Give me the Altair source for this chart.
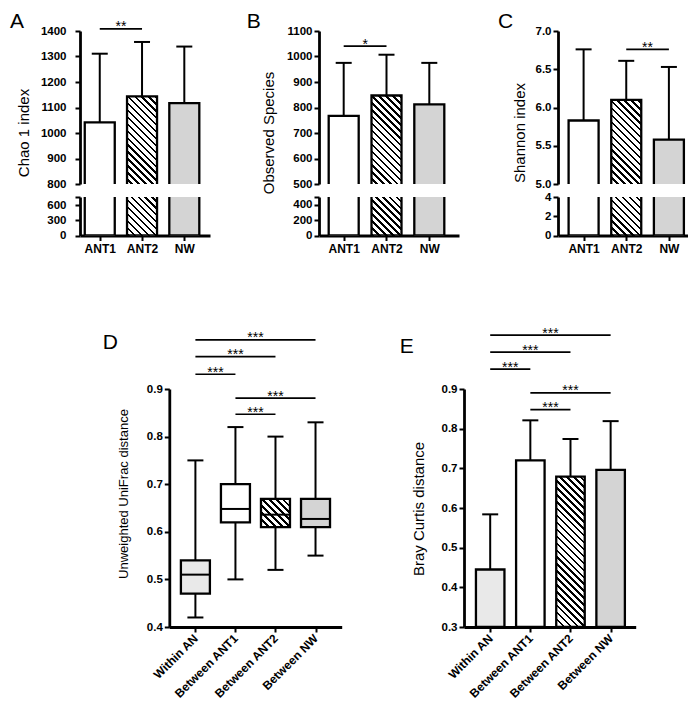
import json
import math
import altair as alt
import pandas as pd

FONT = "Liberation Sans"
GRAY = "#d4d4d4"
DOTTED = "#e9e9e9"

# ---------------- data ----------------
groups3 = ["ANT1", "ANT2", "NW"]
kinds3 = ["open", "hatch", "gray"]
chao1_mean = [1042, 1144, 1117]
chao1_sd_top = [1311, 1357, 1339]
obs_mean = [767, 847, 812]
obs_sd_top = [975, 1007, 975]
shannon_mean = [5.83, 6.10, 5.58]
shannon_sd_top = [6.76, 6.61, 6.53]

chao1_upper_ticks = [800, 900, 1000, 1100, 1200, 1300, 1400]
chao1_lower_ticks = [0, 300, 600]
obs_upper_ticks = [500, 600, 700, 800, 900, 1000, 1100]
obs_lower_ticks = [0, 200, 400]
shannon_upper_ticks = [5.0, 5.5, 6.0, 6.5, 7.0]
shannon_lower_ticks = [0, 2, 4]

sigA_from, sigA_to, sigA_level, sigA_label = [0], [1], [1408], ["**"]
sigB_from, sigB_to, sigB_level, sigB_label = [0], [1], [1041], ["*"]
sigC_from, sigC_to, sigC_level, sigC_label = [1], [2], [6.76], ["**"]

groups4 = ["Within AN", "Between ANT1", "Between ANT2", "Between NW"]
kinds4 = ["dotted", "open", "hatch", "gray"]
unifrac_min = [0.42, 0.50, 0.52, 0.55]
unifrac_q1 = [0.47, 0.62, 0.61, 0.61]
unifrac_median = [0.51, 0.648, 0.636, 0.627]
unifrac_q3 = [0.54, 0.70, 0.669, 0.669]
unifrac_max = [0.75, 0.82, 0.80, 0.83]
unifrac_ticks = [0.4, 0.5, 0.6, 0.7, 0.8, 0.9]

bray_mean = [0.445, 0.72, 0.679, 0.696]
bray_sd_top = [0.584, 0.821, 0.774, 0.819]
bray_ticks = [0.3, 0.4, 0.5, 0.6, 0.7, 0.8, 0.9]

dist_sig_from = [0, 0, 0, 1, 1]
dist_sig_to = [3, 2, 1, 3, 2]
dist_sig_label = ["***", "***", "***", "***", "***"]
unifrac_sig_level = [1.003, 0.968, 0.931, 0.881, 0.847]
bray_sig_level = [1.036, 0.993, 0.950, 0.890, 0.848]

# ---------------- layout / style constants ----------------
UP_H, LO_H, BOT_H, ROW_GAP_H = 153, 38.5, 238, 127
BAR_W, BOX_W, EBAR_W, CAP_W = 30, 29, 28.5, 16
A_W, B_W, C_W = 130, 140, 130
W2 = 238.3 - A_W          # gap column between A and B
W4 = 476.7 - 238.3 - B_W  # gap column between B and C
SW = 2.3                  # outline width
AXW = 2.8                 # axis line width


def hatch(w, h, period=4.9, frac=0.36):
    L = (w + h) / math.sqrt(2)
    n = L / period
    s = (w + h) / (w * w + h * h)
    stops = []
    k = 0
    while k < n:
        a = k / n
        b = min((k + frac) / n, 1.0)
        c = min((k + 1) / n, 1.0)
        stops += [alt.GradientStop(color="black", offset=a),
                  alt.GradientStop(color="black", offset=b),
                  alt.GradientStop(color="white", offset=b),
                  alt.GradientStop(color="white", offset=c)]
        k += 1
    return alt.LinearGradient(gradient="linear", stops=stops,
                              x1=0, y1=1, x2=s * w, y2=1 - s * h)


def fill_for(kind, w, h):
    if kind == "hatch":
        return hatch(w, h)
    if kind == "gray":
        return GRAY
    if kind == "dotted":
        return DOTTED
    return "white"


def y_axis(values, fmt, title="", title_x=0, title_y=0, title_size=15, label_expr="",
           offset=0, pad=2):
    kw = dict(values=values, format=fmt, title=title, grid=False,
              domainColor="black", domainWidth=AXW, tickColor="black",
              tickWidth=2, tickSize=5, labelFont=FONT, labelFontSize=11.5,
              labelFontWeight="bold", labelColor="black", labelPadding=pad,
              labelOverlap=False, offset=offset)
    if title:
        kw.update(titleFont=FONT, titleFontSize=title_size, titleFontWeight="normal",
                  titleColor="black", titleX=title_x, titleY=title_y, titleAngle=270,
                  titleBaseline="alphabetic", titleAlign="center")
    if label_expr:
        kw["labelExpr"] = label_expr
    return alt.Axis(**kw)


def x_axis(labels, rotate=False):
    kw = dict(values=list(range(len(labels))), labelExpr=json.dumps(labels) + "[datum.value]",
              title="", grid=False, domainColor="black", domainWidth=AXW,
              tickColor="black", tickWidth=2, tickSize=5, labelFont=FONT,
              labelFontSize=12, labelFontWeight="bold", labelColor="black",
              labelPadding=3, labelOverlap=False, labelFlush=False)
    if rotate:
        kw.update(labelAngle=315, labelAlign="right", labelBaseline="middle", labelPadding=4)
    return alt.Axis(**kw)


def hline(size):
    return dict(color="black", orient="horizontal", size=size, thickness=2, opacity=1)


def sig_layers(frm, to, level, labels, xs, ys, xax, yax):
    df = pd.DataFrame({"from": frm, "to": to, "level": level, "label": labels,
                       "mid": [(a + b) / 2 for a, b in zip(frm, to)]})
    rule = alt.Chart(df).mark_rule(color="black", strokeWidth=1.7).encode(
        x=alt.X("from:Q", scale=xs, axis=xax), x2="to:Q",
        y=alt.Y("level:Q", scale=ys, axis=yax))
    text = alt.Chart(df).mark_text(font=FONT, fontSize=14, color="black",
                                   baseline="alphabetic", dy=2.5).encode(
        x=alt.X("mid:Q", scale=xs, axis=xax),
        y=alt.Y("level:Q", scale=ys, axis=yax), text="label:N")
    return [rule, text]


def letter_layer(letter, lx, ly):
    return alt.Chart(pd.DataFrame({"t": [letter]})).mark_text(
        font=FONT, fontSize=21, align="left", baseline="top", color="black").encode(
        x=alt.value(lx), y=alt.value(ly), text="t:N")


def top_panel(groups, kinds, mean, sd_top, up_dom, up_ticks, up_fmt, lo_dom, lo_ticks,
              x_dom, width, title, title_x, letter, letter_x, sig, pad=2):
    n = len(groups)
    df = pd.DataFrame({"idx": list(range(n)), "mean": mean, "top": sd_top, "base": [0] * n})
    xs = alt.Scale(domain=x_dom, nice=False, zero=False)
    ys_up = alt.Scale(domain=up_dom, nice=False, zero=False)
    ys_lo = alt.Scale(domain=lo_dom, nice=False, zero=False)
    ax_up = y_axis(up_ticks, up_fmt, title, title_x, 101.5, pad=pad)
    lo_vals = list(lo_ticks)
    if lo_dom[1] > max(lo_ticks):
        lo_vals.append(lo_dom[1])
    ax_lo = y_axis(lo_vals, "d", label_expr=f"datum.value > {max(lo_ticks)} ? '' : datum.label",
                   pad=pad)
    ax_x = x_axis(groups)
    up_px = UP_H / (up_dom[1] - up_dom[0])
    lo_px = LO_H / (lo_dom[1] - lo_dom[0])

    def bars(px, ys, yax, xax):
        return [alt.Chart(df.iloc[[i]]).mark_bar(
            size=BAR_W, fill=fill_for(kinds[i], BAR_W, mean[i] * px),
            stroke="black", strokeWidth=SW, clip=True).encode(
            x=alt.X("idx:Q", scale=xs, axis=xax),
            y=alt.Y("mean:Q", scale=ys, axis=yax), y2="base:Q") for i in range(n)]

    err = alt.Chart(df).mark_rule(color="black", strokeWidth=2).encode(
        x=alt.X("idx:Q", scale=xs, axis=None),
        y=alt.Y("mean:Q", scale=ys_up, axis=ax_up), y2="top:Q")
    cap = alt.Chart(df).mark_tick(**hline(CAP_W)).encode(
        x=alt.X("idx:Q", scale=xs, axis=None),
        y=alt.Y("top:Q", scale=ys_up, axis=ax_up))
    upper = alt.layer(*bars(up_px, ys_up, ax_up, None), err, cap,
                      *sig_layers(*sig, xs, ys_up, None, ax_up),
                      letter_layer(letter, letter_x, -20.5)).properties(width=width, height=UP_H)
    lower = alt.layer(*bars(lo_px, ys_lo, ax_lo, ax_x)).properties(width=width, height=LO_H)
    return upper, lower


# ---- panels A, B, C ----
A_up, A_lo = top_panel(groups3, kinds3, chao1_mean, chao1_sd_top, [800, 1400], chao1_upper_ticks, "d",
                       [0, 760], chao1_lower_ticks, [-0.349, -0.349 + A_W / 45.8], A_W,
                       "Chao 1 index", -51.7, "A", -70,
                       (sigA_from, sigA_to, sigA_level, sigA_label), pad=9)
B_up, B_lo = top_panel(groups3, kinds3, obs_mean, obs_sd_top, [500, 1100], obs_upper_ticks, "d",
                       [0, 500], obs_lower_ticks, [-0.46, -0.46 + B_W / 46.1], B_W,
                       "Observed Species", -45.9, "B", -72.3,
                       (sigB_from, sigB_to, sigB_level, sigB_label))
C_up, C_lo = top_panel(groups3, kinds3, shannon_mean, shannon_sd_top, [5, 7], shannon_upper_ticks, ".1f",
                       [0, 4], shannon_lower_ticks, [-0.483, -0.483 + C_W / 46.2], C_W,
                       "Shannon index", -33.4, "C", -60,
                       (sigC_from, sigC_to, sigC_level, sigC_label))

# ---- panel D (box plots); sits in column of A, shifted right inside its cell ----
D_SHIFT, D_W = 89.3, 172.4
dfD = pd.DataFrame({"idx": list(range(4)), "lo": unifrac_min, "q1": unifrac_q1,
                    "med": unifrac_median, "q3": unifrac_q3, "hi": unifrac_max})
xsD = alt.Scale(domain=[-0.527, 3.529], range=[D_SHIFT, D_SHIFT + D_W], nice=False, zero=False)
ysD = alt.Scale(domain=[0.4, 0.9], nice=False, zero=False)
axD = y_axis(unifrac_ticks, ".1f", "Unweighted UniFrac distance", -41.7, 104.5, 13, offset=-D_SHIFT)
axxD = x_axis(groups4, rotate=True)
pxD = BOT_H / 0.5


def xD(field="idx"):
    return alt.X(f"{field}:Q", scale=xsD, axis=axxD)


whisk = alt.Chart(dfD).mark_rule(color="black", strokeWidth=2).encode(
    x=xD(), y=alt.Y("lo:Q", scale=ysD, axis=axD), y2="hi:Q")
boxes = [alt.Chart(dfD.iloc[[i]]).mark_bar(
    size=BOX_W, fill=fill_for(kinds4[i], BOX_W, (unifrac_q3[i] - unifrac_q1[i]) * pxD),
    stroke="black", strokeWidth=SW).encode(
    x=xD(), y=alt.Y("q1:Q", scale=ysD, axis=axD), y2="q3:Q") for i in range(4)]
med = alt.Chart(dfD).mark_tick(**hline(BOX_W)).encode(
    x=xD(), y=alt.Y("med:Q", scale=ysD, axis=axD))
capLo = alt.Chart(dfD).mark_tick(**hline(CAP_W)).encode(
    x=xD(), y=alt.Y("lo:Q", scale=ysD, axis=axD))
capHi = alt.Chart(dfD).mark_tick(**hline(CAP_W)).encode(
    x=xD(), y=alt.Y("hi:Q", scale=ysD, axis=axD))
D = alt.layer(whisk, *boxes, med, capLo, capHi,
              *sig_layers(dist_sig_from, dist_sig_to, unifrac_sig_level, dist_sig_label,
                          xsD, ysD, axxD, axD),
              letter_layer("D", -66.6 + D_SHIFT, -57.5)).properties(width=A_W, height=BOT_H)

# ---- panel E (bars); sits in column of B, shifted right inside its cell ----
E_SHIFT, E_W = 383.3 - 238.3, 171.7
dfE = pd.DataFrame({"idx": list(range(4)), "mean": bray_mean, "top": bray_sd_top, "base": [0.3] * 4})
xsE = alt.Scale(domain=[-0.528, 3.5], range=[E_SHIFT, E_SHIFT + E_W], nice=False, zero=False)
ysE = alt.Scale(domain=[0.3, 0.9], nice=False, zero=False)
axE = y_axis(bray_ticks, ".1f", "Bray Curtis distance", -40.6, 119.5, 15, offset=-E_SHIFT)
axxE = x_axis(groups4, rotate=True)
pxE = BOT_H / 0.6
barsE = [alt.Chart(dfE.iloc[[i]]).mark_bar(
    size=EBAR_W, fill=fill_for(kinds4[i], EBAR_W, (bray_mean[i] - 0.3) * pxE),
    stroke="black", strokeWidth=SW).encode(
    x=alt.X("idx:Q", scale=xsE, axis=axxE),
    y=alt.Y("mean:Q", scale=ysE, axis=axE), y2="base:Q") for i in range(4)]
errE = alt.Chart(dfE).mark_rule(color="black", strokeWidth=2).encode(
    x=alt.X("idx:Q", scale=xsE, axis=axxE), y=alt.Y("mean:Q", scale=ysE, axis=axE), y2="top:Q")
capE = alt.Chart(dfE).mark_tick(**hline(CAP_W)).encode(
    x=alt.X("idx:Q", scale=xsE, axis=axxE), y=alt.Y("top:Q", scale=ysE, axis=axE))
E = alt.layer(*barsE, errE, capE,
              *sig_layers(dist_sig_from, dist_sig_to, bray_sig_level, dist_sig_label,
                          xsE, ysE, axxE, axE),
              letter_layer("E", -64.3 + E_SHIFT, -53.5)).properties(width=B_W, height=BOT_H)


def spacer(w, h):
    return alt.Chart(pd.DataFrame({"s": [0]})).mark_point(size=0, opacity=0).encode(
        x=alt.value(0), y=alt.value(0)).properties(width=w, height=h)


cells = [
    A_up, spacer(W2, UP_H), B_up, spacer(W4, UP_H), C_up,
    A_lo, spacer(W2, LO_H), B_lo, spacer(W4, LO_H), C_lo,
    spacer(1, ROW_GAP_H), spacer(1, ROW_GAP_H), spacer(1, ROW_GAP_H), spacer(1, ROW_GAP_H), spacer(1, ROW_GAP_H),
    D, spacer(W2, BOT_H), E,
]

chart = alt.concat(*cells, columns=5, spacing={"row": 13, "column": 0},
                   bounds="flush").properties(
    padding={"left": 2, "top": 2, "right": 0, "bottom": 2}
).configure_view(strokeWidth=0)

chart.save("out.html", embed_options={"renderer": "svg", "actions": False})
